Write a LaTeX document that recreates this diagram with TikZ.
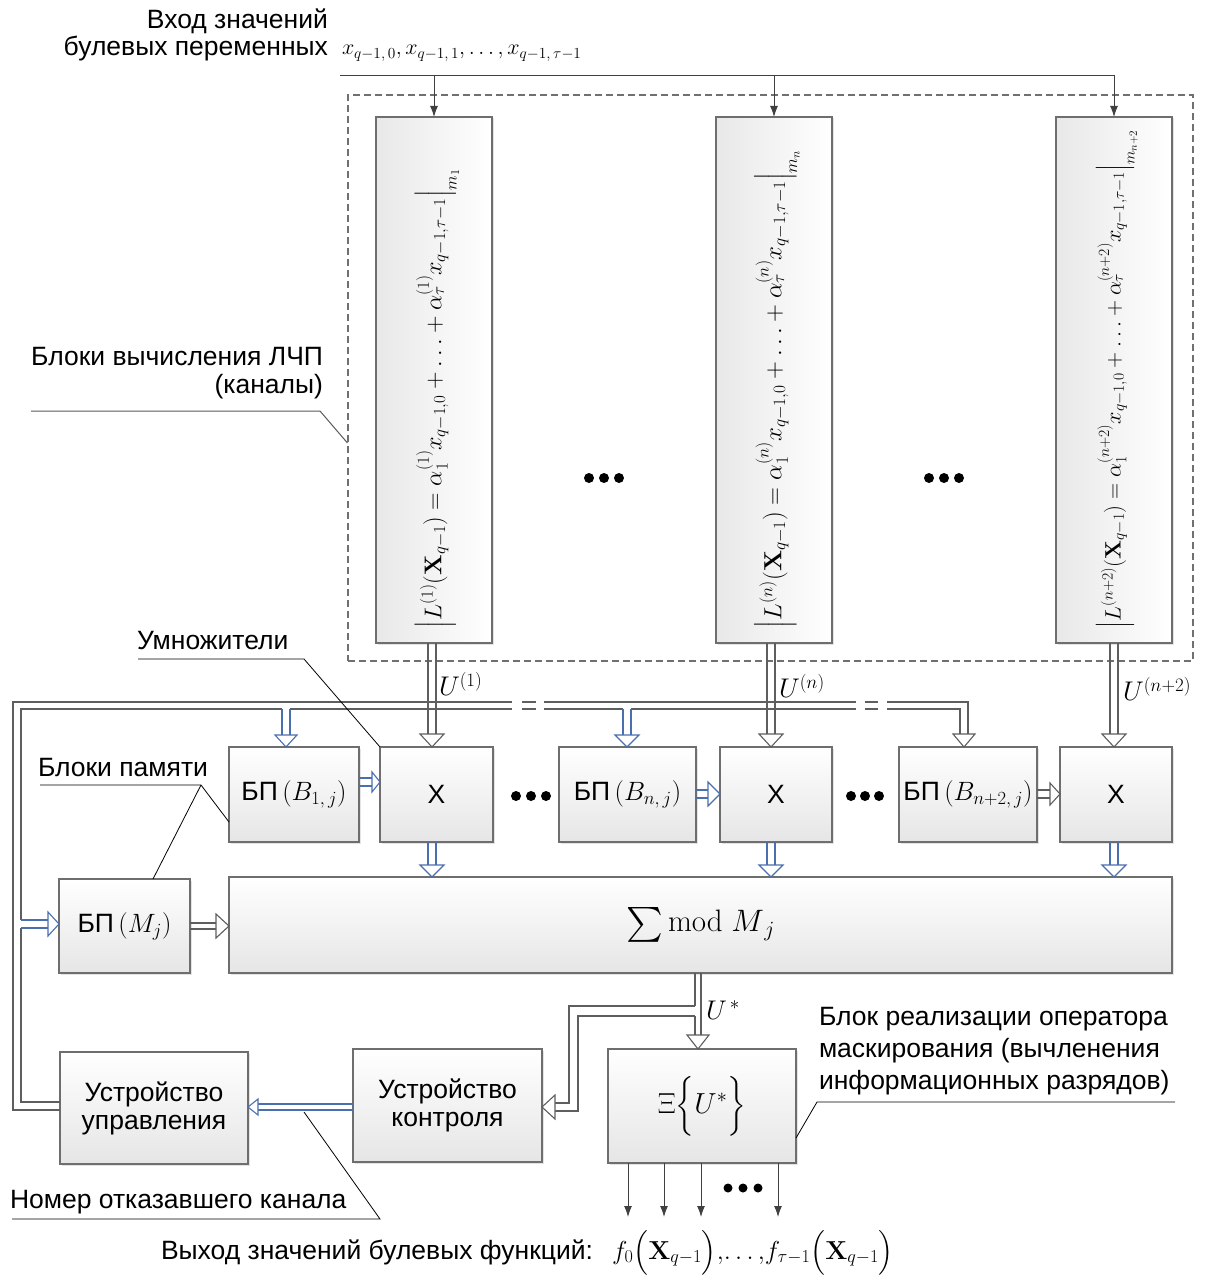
\documentclass[tikz,border=0pt]{standalone}
\usepackage{fix-cm}
\usepackage{amsmath}
\usepackage{graphicx}
\usepackage[no-math]{fontspec}
\setmainfont{Liberation Sans}
\usetikzlibrary{shadows,arrows.meta}
\definecolor{lg}{HTML}{5E5E5E}
\definecolor{bb}{HTML}{4A6FAE}
\definecolor{bord}{HTML}{6E6E6E}
\definecolor{dsh}{HTML}{707070}
\definecolor{thin}{HTML}{404040}

\newcommand\hdD[5]{\filldraw[#1,fill=white,line join=miter,line width=1.1pt] ({#2-#5},{#3-#4}) -- ({#2+#5},{#3-#4}) -- (#2,#3) -- cycle;}
\newcommand\hdR[5]{\filldraw[#1,fill=white,line join=miter,line width=1.1pt] ({#2-#4},{#3-#5}) -- ({#2-#4},{#3+#5}) -- (#2,#3) -- cycle;}
\newcommand\hdL[5]{\filldraw[#1,fill=white,line join=miter,line width=1.1pt] ({#2+#4},{#3-#5}) -- ({#2+#4},{#3+#5}) -- (#2,#3) -- cycle;}
% vertical double arrow down: color, x, y1, ytip, d, hl, hw
\newcommand\dvA[7]{\draw[#1,line width=1.1pt] ({#2-#5},#3) -- ({#2-#5},{#4-#6}) ({#2+#5},#3) -- ({#2+#5},{#4-#6}); \hdD{#1}{#2}{#4}{#6}{#7}}
% horizontal double arrow right: color, y, x1, xtip, d, hl, hw
\newcommand\dhR[7]{\draw[#1,line width=1.1pt] (#3,{#2-#5}) -- ({#4-#6},{#2-#5}) (#3,{#2+#5}) -- ({#4-#6},{#2+#5}); \hdR{#1}{#4}{#2}{#6}{#7}}

\newcommand\Lform[2]{$\left|L^{(#1)}(\mathbf{X}_{q-1}) = \alpha_1^{(#1)} x_{q-1,0} + \ldots + \alpha_\tau^{(#1)} x_{q-1,\tau-1}\right|_{#2}$}

\tikzset{
  rbox/.style={draw=bord, line width=1.1pt, top color=white, bottom color=black!10,
    drop shadow={opacity=0.22,shadow xshift=1.5pt,shadow yshift=-1.5pt},
    inner sep=0pt, outer sep=0pt, align=center},
  lbox/.style={draw=bord, line width=1.1pt, left color=black!9, right color=white,
    drop shadow={opacity=0.22,shadow xshift=1.5pt,shadow yshift=-1.5pt},
    inner sep=0pt, outer sep=0pt, minimum width=116pt, minimum height=526pt},
  callout/.style={draw=black, line width=0.8pt},
  thinarrow/.style={draw=thin, line width=1pt, -{Latex[length=11pt,width=8pt]}},
  lbl/.style={inner sep=0pt, outer sep=0pt},
}

\begin{document}
\begin{tikzpicture}[x=1pt,y=-1pt,font=\fontsize{26.5}{30}\selectfont]
\useasboundingbox (0,0) rectangle (1208,1276);

% ---------- top input ----------
\node[lbl,anchor=east,align=right,font=\fontsize{26.5}{27}\selectfont] (tin) at (328,35) {Вход значений\\булевых переменных};
\node[lbl,anchor=base west,font=\fontsize{22}{26}\selectfont] (xin) at (342,55) {$x_{q-1,\,0}, x_{q-1,\,1}, \ldots, x_{q-1,\,\tau-1}$};

% ---------- dashed group ----------
\node[draw=dsh, line width=1.1pt, dash pattern=on 7pt off 4pt, minimum width=845pt, minimum height=566pt, inner sep=0pt] (grp) at (770.5,378) {};

% ---------- L boxes ----------
\node[lbox] (L1) at (434,380) {};
\node[lbox] (Ln) at (774,380) {};
\node[lbox] (Lm) at (1114,380) {};
\node[lbl,anchor=south] (F1) at (437,628) {\rotatebox{90}{\resizebox{459pt}{!}{\Lform{1}{m_1}}}};
\node[lbl,anchor=south] (Fn) at (777,628) {\rotatebox{90}{\resizebox{478pt}{!}{\Lform{n}{m_n}}}};
\node[lbl,anchor=south] (Fm) at (1117,628) {\rotatebox{90}{\resizebox{498pt}{!}{\Lform{n+2}{m_{n+2}}}}};

% input line and arrows
\draw[thinarrow] (340,76) -| (Lm.north);
\draw[thinarrow] (434,76) -- (L1.north);
\draw[thinarrow] (774,76) -- (Ln.north);

% dots in group
\foreach \x in {589,604,619,929,944,959} \fill (\x,478) circle (5);

% ---------- row of memory / multipliers ----------
\node[rbox,minimum width=130pt,minimum height=95pt] (B1) at (294,794.5) {БП\,$(B_{1,\,j})$};
\node[rbox,minimum width=113pt,minimum height=95pt] (X1) at (436.5,794.5) {X};
\node[rbox,minimum width=137pt,minimum height=95pt] (Bn) at (627.5,794.5) {БП\,$(B_{n,\,j})$};
\node[rbox,minimum width=112pt,minimum height=95pt] (Xn) at (776,794.5) {X};
\node[rbox,minimum width=138pt,minimum height=95pt] (Bm) at (968,794.5) {БП\,$(B_{n+2,\,j})$};
\node[rbox,minimum width=112pt,minimum height=95pt] (Xm) at (1116,794.5) {X};
\foreach \x in {516,531,546,851,865,879} \fill (\x,796) circle (5);

% ---------- sum, memory M ----------
\node[rbox,minimum width=943pt,minimum height=96pt,font=\fontsize{31}{34}\selectfont] (S) at (700.5,925) {\raisebox{-4pt}{\scalebox{1.4}{$\sum$}}\,$\mathrm{mod}\; M_{\,j}$};
\node[rbox,minimum width=131pt,minimum height=94pt] (BM) at (124.5,926) {БП\,$(M_j)$};

% ---------- bottom row ----------
\node[rbox,minimum width=188pt,minimum height=112pt,font=\fontsize{26.5}{28}\selectfont] (UU) at (154,1108) {Устройство\\управления};
\node[rbox,minimum width=189pt,minimum height=113pt,font=\fontsize{26.5}{28}\selectfont] (UK) at (447.5,1105.5) {Устройство\\контроля};
\node[rbox,minimum width=188pt,minimum height=114pt,font=\fontsize{29}{32}\selectfont] (Xi) at (702,1106) {$\Xi\Bigl\{U^{*}\Bigr\}$};

% ---------- double arrows from L to X ----------
\dvA{lg}{432}{643}{747}{4}{13}{12}
\dvA{lg}{771}{643}{747}{4}{13}{12}
\dvA{lg}{1114}{643}{747}{4}{13}{12}
\node[lbl,anchor=west,font=\fontsize{27}{30}\selectfont] (u1) at (439,684) {$U^{(1)}$};
\node[lbl,anchor=west,font=\fontsize{27}{30}\selectfont] (un) at (779,686) {$U^{(n)}$};
\node[lbl,anchor=west,font=\fontsize{27}{30}\selectfont] (um) at (1123,689) {$U^{(n+2)}$};

% X -> Sum
\dvA{bb}{432}{842}{877}{4}{12}{12}
\dvA{bb}{771}{842}{877}{4}{12}{12}
\dvA{bb}{1114}{842}{877}{4}{12}{12}

% B -> X
\dhR{bb}{782}{359}{380}{4}{8}{10}
\dhR{bb}{794}{696}{720}{4}{12}{12}
\dhR{lg}{794}{1037}{1060}{4}{10}{11}

% M -> Sum
\dhR{lg}{926}{190}{229}{3}{13}{12}

% ---------- feedback bus ----------
\draw[lg,line width=1.1pt]
  (60,1110) -- (13,1110) -- (13,702) -- (512,702)
  (522,702) -- (536,702)
  (544,702) -- (856,702)
  (865,702) -- (878,702)
  (887,702) -- (968,702) -- (968,734);
\draw[lg,line width=1.1pt]
  (60,1102) -- (21,1102) -- (21,928)
  (21,920) -- (21,709) -- (282,709)
  (290,709) -- (512,709)
  (522,709) -- (536,709)
  (544,709) -- (623,709)
  (631,709) -- (856,709)
  (865,709) -- (878,709)
  (887,709) -- (960,709) -- (960,734);
\hdD{lg}{964}{747}{13}{11}
\dvA{bb}{286}{709}{747}{4}{12}{11}
\dvA{bb}{627}{709}{747}{4}{12}{12}
\dhR{bb}{924}{21}{59}{4}{11}{12}

% ---------- Sum -> Xi and Sum -> UK ----------
\draw[lg,line width=1.1pt] (695,973) -- (695,1006) (695,1016) -- (695,1035) (701,973) -- (701,1035);
\hdD{lg}{698}{1049}{14}{11}
\draw[lg,line width=1.1pt] (695,1006) -- (569,1006) -- (569,1103) -- (555,1103);
\draw[lg,line width=1.1pt] (695,1016) -- (578,1016) -- (578,1111) -- (555,1111);
\hdL{lg}{542}{1107}{13}{12}
\node[lbl,anchor=west,font=\fontsize{27}{30}\selectfont] (us) at (706,1010) {$U^{\,*}$};

% UK -> UU
\draw[bb,line width=1.1pt] (353,1104) -- (258,1104) (353,1110) -- (258,1110);
\hdL{bb}{248}{1107}{10}{8}

% ---------- outputs ----------
\foreach \x in {628,664,701,778} \draw[thinarrow] (\x,1163) -- (\x,1217);
\foreach \x in {728,743,758} \fill (\x,1188) circle (4.5);
\node[lbl,anchor=base west] (outt) at (161,1259) {Выход значений булевых функций:};
\node[lbl,anchor=base west,font=\fontsize{26}{30}\selectfont] (outf) at (612,1259) {$f_0\Bigl(\mathbf{X}_{q-1}\Bigr),\!\ldots,\! f_{\tau-1}\Bigl(\mathbf{X}_{q-1}\Bigr)$};

% ---------- callouts ----------
\node[lbl,anchor=east,align=right,font=\fontsize{26.5}{28}\selectfont] (tlch) at (323,373) {Блоки вычисления ЛЧП\\(каналы)};
\draw[callout,draw=black!65,line width=1pt] (31,411) -- (320,411) -- (grp.west |- 0,443);

\node[lbl,anchor=west] (tum) at (137,641) {Умножители};
\draw[callout] (138,659) -- (304,659) -- (X1.north west);

\node[lbl,anchor=west] (tbp) at (38,768) {Блоки памяти};
\draw[callout] (40,785) -- (201,785) -- (B1.west |- 0,822);
\draw[callout] (201,785) -- (BM.north -| 153,0);

\node[lbl,anchor=west] (tnom) at (10,1202) {Номер отказавшего канала};
\draw[callout] (12,1219) -- (380,1219) -- (304,1112);

\node[lbl,anchor=west,align=left,font=\fontsize{26.5}{32}\selectfont] (tblk) at (819,1051) {Блок реализации оператора\\маскирования (вычленения\\информационных разрядов)};
\draw[callout] (1175,1102) -- (817,1102) -- (Xi.east |- 0,1138);
\end{tikzpicture}
\end{document}
